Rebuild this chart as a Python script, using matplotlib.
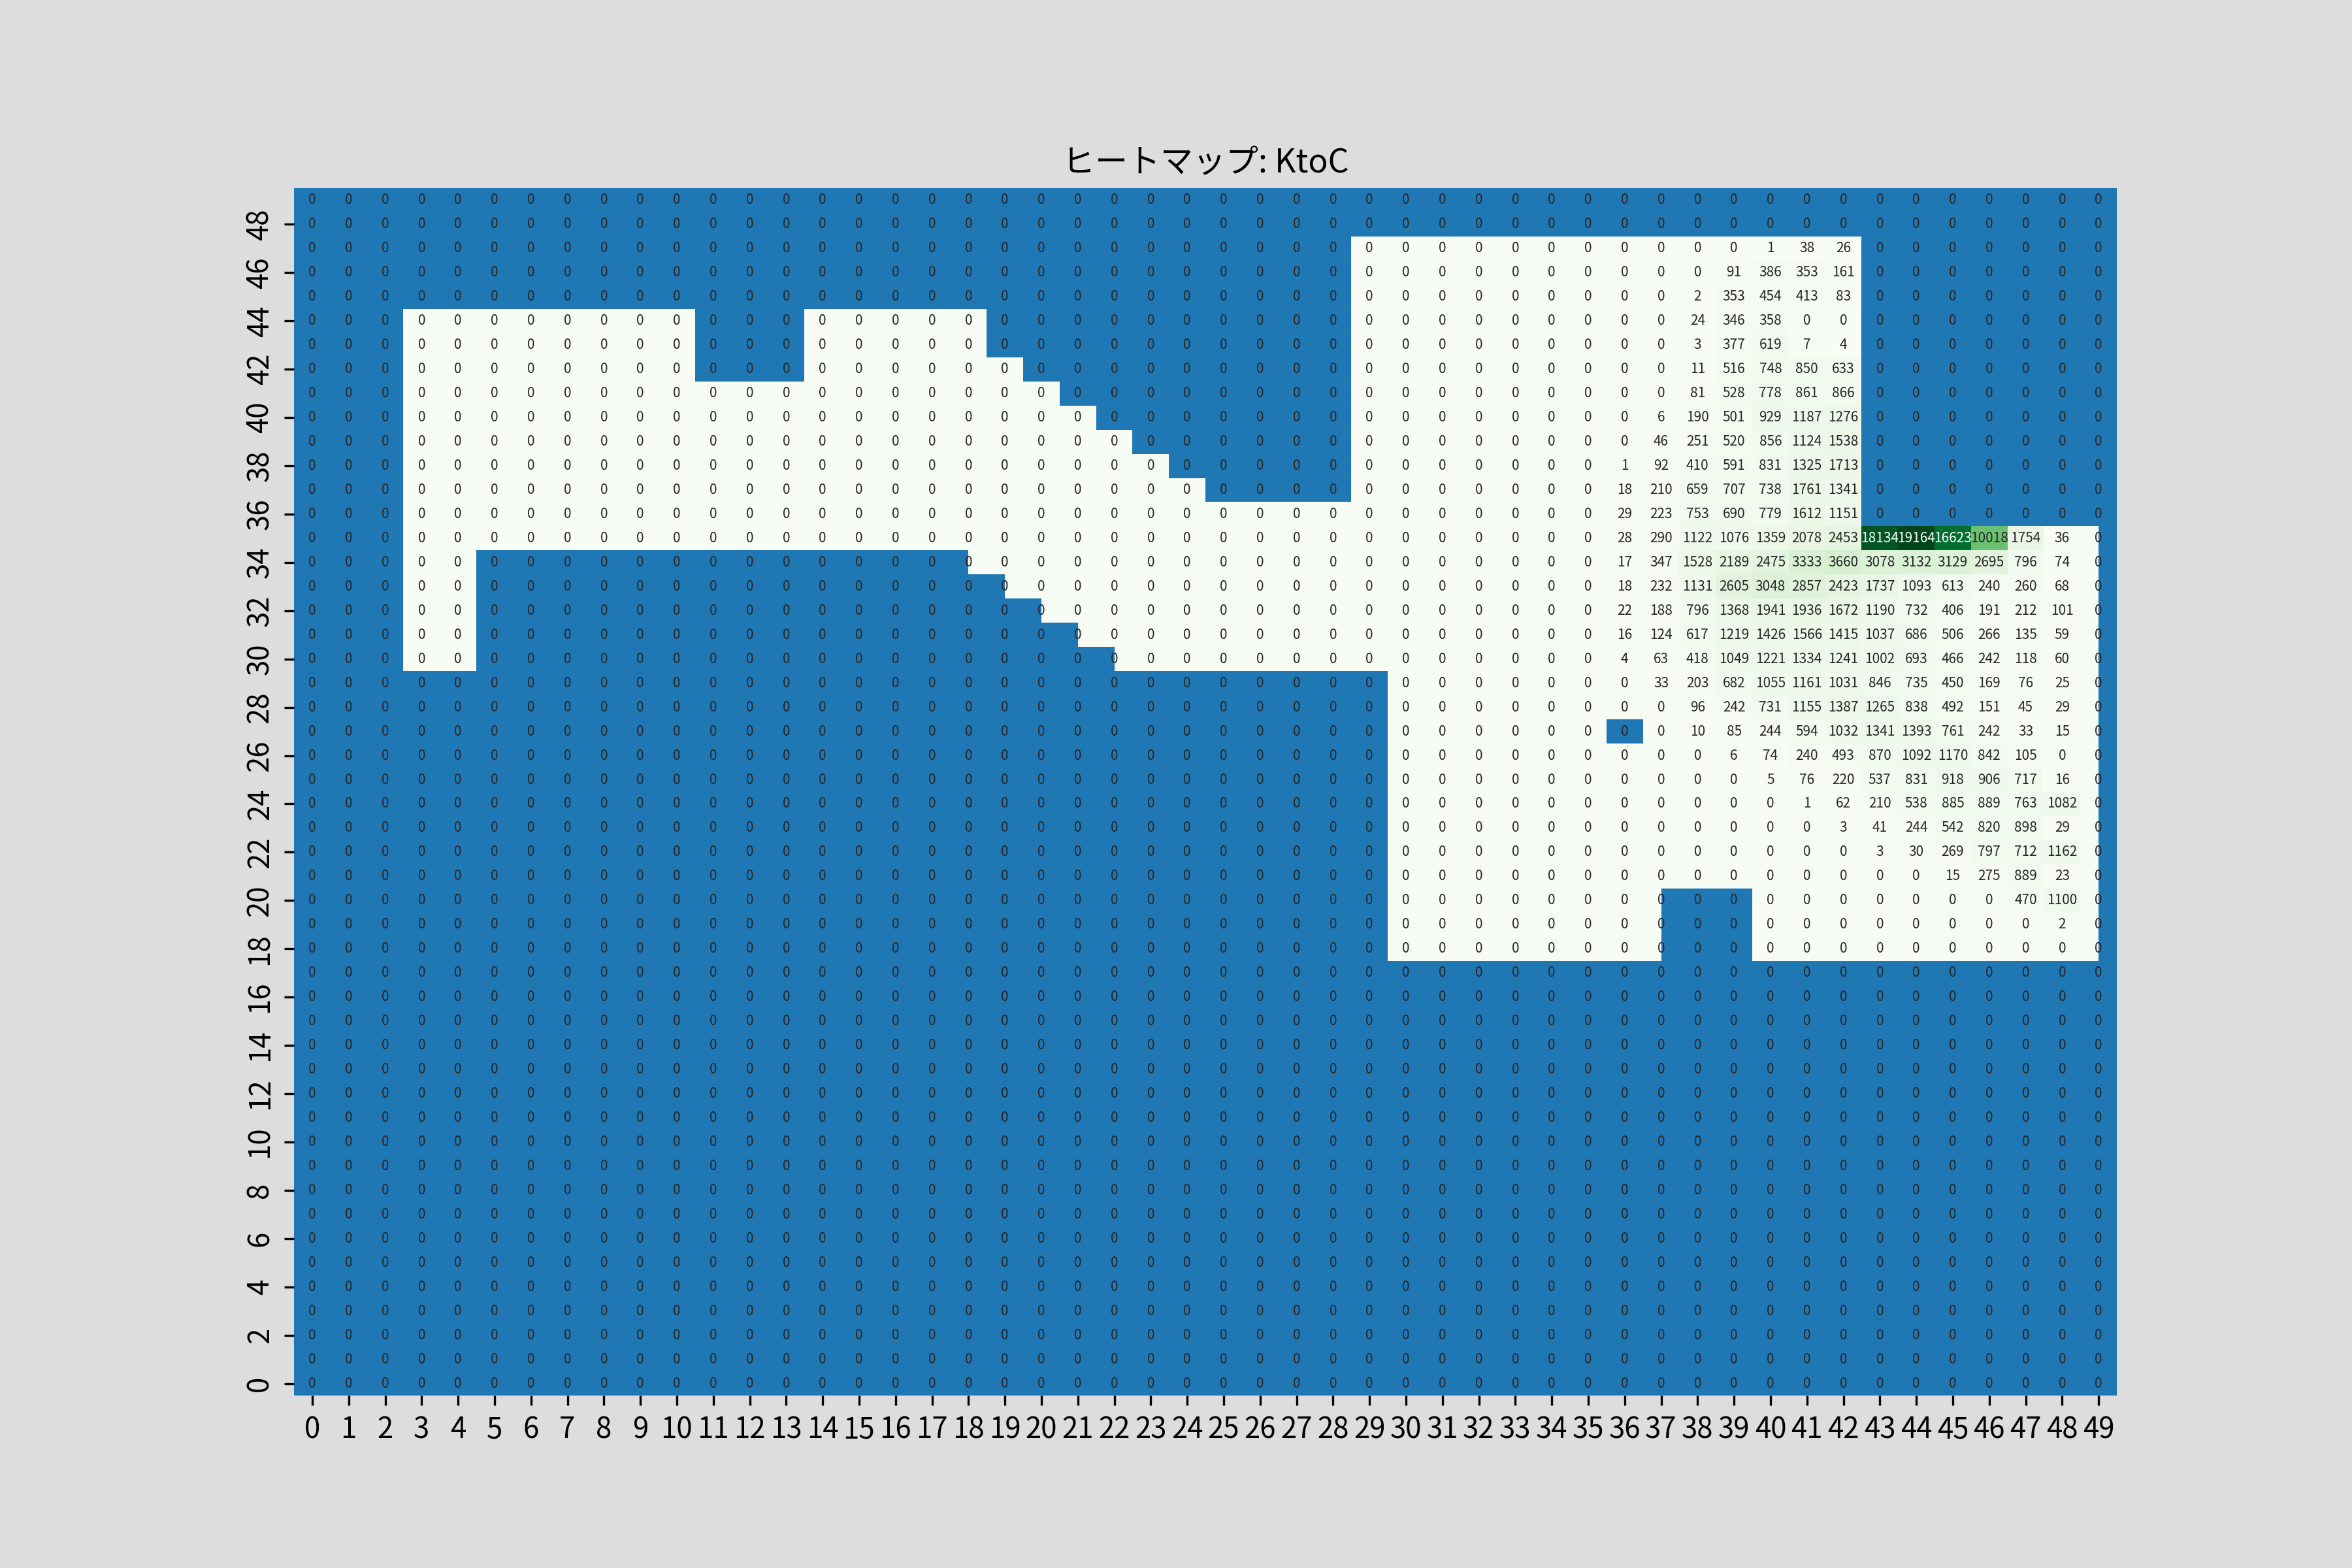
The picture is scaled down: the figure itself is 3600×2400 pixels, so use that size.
import numpy as np
import matplotlib.pyplot as plt
from matplotlib.path import Path
from matplotlib.colors import to_rgb

plt.rcParams['font.family'] = ['Noto Sans CJK JP', 'DejaVu Sans']

n_rows = 50
n_cols = 50
title = 'ヒートマップ: KtoC'

# counts, upper block: rows 47 down to 36, columns 35..42
upper_top_row = 47
upper_first_col = 35
upper_block = [
    [0, 0, 0, 0, 0, 1, 38, 26],
    [0, 0, 0, 0, 91, 386, 353, 161],
    [0, 0, 0, 2, 353, 454, 413, 83],
    [0, 0, 0, 24, 346, 358, 0, 0],
    [0, 0, 0, 3, 377, 619, 7, 4],
    [0, 0, 0, 11, 516, 748, 850, 633],
    [0, 0, 0, 81, 528, 778, 861, 866],
    [0, 0, 6, 190, 501, 929, 1187, 1276],
    [0, 0, 46, 251, 520, 856, 1124, 1538],
    [0, 1, 92, 410, 591, 831, 1325, 1713],
    [0, 18, 210, 659, 707, 738, 1761, 1341],
    [0, 29, 223, 753, 690, 779, 1612, 1151],
]

# lower block: rows 35 down to 18, columns 35..49
lower_top_row = 35
lower_first_col = 35
lower_block = [
    [0, 28, 290, 1122, 1076, 1359, 2078, 2453, 18134, 19164, 16623, 10018, 1754, 36, 0],
    [0, 17, 347, 1528, 2189, 2475, 3333, 3660, 3078, 3132, 3129, 2695, 796, 74, 0],
    [0, 18, 232, 1131, 2605, 3048, 2857, 2423, 1737, 1093, 613, 240, 260, 68, 0],
    [0, 22, 188, 796, 1368, 1941, 1936, 1672, 1190, 732, 406, 191, 212, 101, 0],
    [0, 16, 124, 617, 1219, 1426, 1566, 1415, 1037, 686, 506, 266, 135, 59, 0],
    [0, 4, 63, 418, 1049, 1221, 1334, 1241, 1002, 693, 466, 242, 118, 60, 0],
    [0, 0, 33, 203, 682, 1055, 1161, 1031, 846, 735, 450, 169, 76, 25, 0],
    [0, 0, 0, 96, 242, 731, 1155, 1387, 1265, 838, 492, 151, 45, 29, 0],
    [0, 0, 0, 10, 85, 244, 594, 1032, 1341, 1393, 761, 242, 33, 15, 0],
    [0, 0, 0, 0, 6, 74, 240, 493, 870, 1092, 1170, 842, 105, 0, 0],
    [0, 0, 0, 0, 0, 5, 76, 220, 537, 831, 918, 906, 717, 16, 0],
    [0, 0, 0, 0, 0, 0, 1, 62, 210, 538, 885, 889, 763, 1082, 0],
    [0, 0, 0, 0, 0, 0, 0, 3, 41, 244, 542, 820, 898, 29, 0],
    [0, 0, 0, 0, 0, 0, 0, 0, 3, 30, 269, 797, 712, 1162, 0],
    [0, 0, 0, 0, 0, 0, 0, 0, 0, 0, 15, 275, 889, 23, 0],
    [0, 0, 0, 0, 0, 0, 0, 0, 0, 0, 0, 0, 470, 1100, 0],
    [0, 0, 0, 0, 0, 0, 0, 0, 0, 0, 0, 0, 0, 2, 0],
    [0, 0, 0, 0, 0, 0, 0, 0, 0, 0, 0, 0, 0, 0, 0],
]

# outline of the area that is shown (everything else is covered in blue)
region_outline = [
    (3, 45), (11, 45), (11, 42), (14, 42), (14, 45), (19, 45), (19, 43),
    (20, 43), (20, 42), (21, 42), (21, 41), (22, 41), (22, 40), (23, 40),
    (23, 39), (24, 39), (24, 38), (25, 38), (25, 37), (29, 37), (29, 48),
    (43, 48), (43, 36), (49.5, 36), (49.5, 18), (40, 18), (40, 21),
    (37.5, 21), (37.5, 18), (30, 18), (30, 30), (22.5, 30), (22.5, 31),
    (21.5, 31), (21.5, 32), (20.5, 32), (20.5, 33), (19.5, 33), (19.5, 34),
    (18.5, 34), (18.5, 35), (5, 35), (5, 30), (3, 30),
]
region_hole = [(36, 27), (37, 27), (37, 28), (36, 28)]

kc = np.zeros((n_rows, n_cols), dtype=int)
for i, vals in enumerate(upper_block):
    kc[upper_top_row - i, upper_first_col:upper_first_col + len(vals)] = vals
for i, vals in enumerate(lower_block):
    kc[lower_top_row - i, lower_first_col:lower_first_col + len(vals)] = vals


def luminance(color):
    rgb = np.array(to_rgb(color))
    rgb = np.where(rgb <= .03928, rgb / 12.92, ((rgb + .055) / 1.055) ** 2.4)
    return rgb.dot([.2126, .7152, .0722])


fig, ax = plt.subplots(figsize=(12, 8), dpi=300)
fig.patch.set_facecolor('#dddddd')
ax.set_facecolor('#1f77b4')

cmap = plt.get_cmap('Greens')
mesh = ax.pcolormesh(np.arange(n_cols + 1), np.arange(n_rows + 1), kc,
                     cmap=cmap, vmin=0, vmax=kc.max())

# clip the heatmap to the outline, hole goes the other way round
verts = region_outline + [region_outline[0]] + region_hole + [region_hole[0]]
codes = ([Path.MOVETO] + [Path.LINETO] * (len(region_outline) - 1) + [Path.CLOSEPOLY]
         + [Path.MOVETO] + [Path.LINETO] * (len(region_hole) - 1) + [Path.CLOSEPOLY])
mesh.set_clip_path(Path(verts, codes), ax.transData)

for r in range(n_rows):
    for c in range(n_cols):
        cell_color = cmap(mesh.norm(kc[r, c]))
        txt_color = '.15' if luminance(cell_color) > .408 else 'w'
        ax.text(c + 0.5, r + 0.5, str(kc[r, c]), ha='center', va='center',
                fontsize=5, color=txt_color)

ax.set_xlim(0, n_cols)
ax.set_ylim(0, n_rows)
ax.set_xticks(np.arange(n_cols) + 0.5)
ax.set_xticklabels([str(i) for i in range(n_cols)], fontsize=10.5)
ax.set_yticks(np.arange(0, n_rows, 2) + 0.5)
ax.set_yticklabels([str(i) for i in range(0, n_rows, 2)], rotation='vertical',
                   va='center', fontsize=10.5)
for s in ax.spines.values():
    s.set_visible(False)

ax.set_title(title, fontsize=12)

plt.savefig('out.png', dpi=300, facecolor=fig.get_facecolor())
